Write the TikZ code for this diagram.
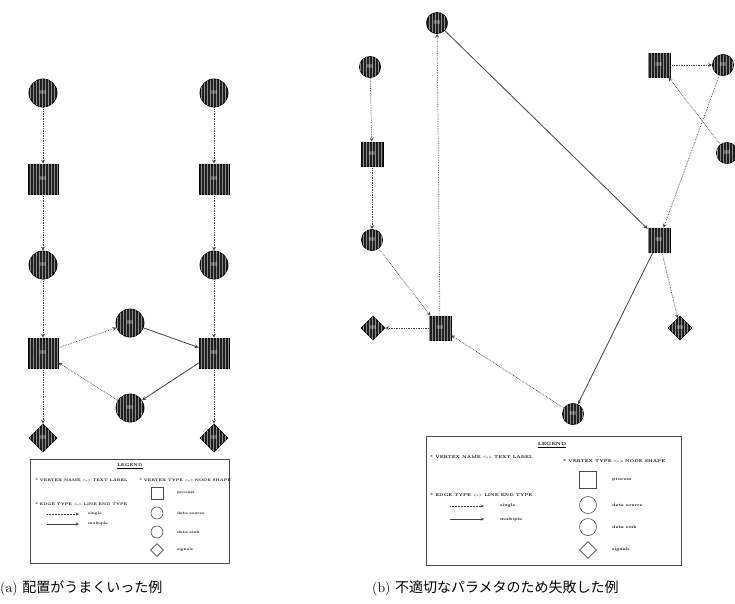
\documentclass[tikz,border=0pt]{standalone}
\usepackage{fontspec}
\newfontfamily\jpfont{Noto Sans CJK JP}
\usepackage{tikz}
\usetikzlibrary{arrows, positioning, shapes.geometric, patterns}

\begin{document}
\begin{tikzpicture}[x=1pt, y=-1pt, >=stealth, node distance=86pt,
	every node/.style={inner sep=0pt},
	vtx/.style={draw=black, line width=0.8pt, fill=black!88, postaction={pattern=vertical lines, pattern color=black!45},
		text=white, font=\fontsize{8}{8}\selectfont\bfseries},
	proc/.style={vtx, rectangle, minimum width=30pt, minimum height=30pt},
	src/.style={vtx, circle, minimum size=28pt},
	sig/.style={vtx, diamond, minimum size=28pt},
	procb/.style={vtx, rectangle, minimum width=22pt, minimum height=24pt},
	srcb/.style={vtx, circle, minimum size=21pt},
	sigb/.style={vtx, diamond, minimum size=24pt},
	single/.style={->, densely dotted, black!75, line width=0.7pt},
	multi/.style={->, black!75, line width=0.8pt},
	legbox/.style={draw=black!70, line width=0.8pt},
	legtxt/.style={anchor=west, font=\fontsize{3.6}{4}\selectfont\bfseries},
	legtxtb/.style={anchor=west, font=\fontsize{4}{5}\selectfont\bfseries},
	legshape/.style={draw=black!70, fill=white, line width=0.6pt}]

	\useasboundingbox (0,0) rectangle (735,603);
	\fill[white] (0,0) rectangle (735,603);

	% (a) left column
	\node [src] (L1) at (43,93) {=};
	\node [proc] (L2) [below of = L1] {=};
	\node [src] (L3) [below of = L2] {=};
	\node [proc] (L4) [below of = L3, node distance=88pt] {=};
	\node [sig] (L5) [below of = L4, node distance=85pt] {=};

	% (a) right column
	\node [src] (R1) at (214,93) {=};
	\node [proc] (R2) [below of = R1] {=};
	\node [src] (R3) [below of = R2] {=};
	\node [proc] (R4) [below of = R3, node distance=88pt] {=};
	\node [sig] (R5) [below of = R4, node distance=85pt] {=};

	% (a) middle
	\node [src] (M1) at (130,323) {=};
	\node [src] (M2) at (130,408) {=};

	\draw [single] (L1) -- (L2);
	\draw [single] (L2) -- (L3);
	\draw [single] (L3) -- (L4);
	\draw [single] (L4) -- (L5);
	\draw [single] (R1) -- (R2);
	\draw [single] (R2) -- (R3);
	\draw [single] (R3) -- (R4);
	\draw [single] (R4) -- (R5);
	\draw [single] (L4) -- (M1);
	\draw [multi] (M1) -- (R4);
	\draw [multi] (R4) -- (M2);
	\draw [single] (M2) -- (L4);

	% (a) legend
	\node [legbox, minimum width=199pt, minimum height=104pt] (lega) at (129.5,511) {};
	\node [font=\fontsize{4}{5}\selectfont\bfseries] (lega-t) at (130,466) {\underline{LEGEND}};
	\node [legtxt] (lega-n) at (35,480) {* VERTEX NAME <-> TEXT LABEL};
	\node [legtxt] (lega-v) at (139,480) {* VERTEX TYPE <-> NODE SHAPE};
	\node [legtxt] (lega-e) at (35,504) {* EDGE TYPE <-> LINE END TYPE};
	\coordinate (as1) at (47,514);
	\coordinate (as2) at (79,514);
	\coordinate (am1) at (47,524);
	\coordinate (am2) at (79,524);
	\draw [single, line width=0.5pt] (as1) -- (as2);
	\draw [multi, line width=0.5pt] (am1) -- (am2);
	\node [legtxt] (lega-s) at (88,514) {single};
	\node [legtxt] (lega-m) at (88,524) {multiple};
	\node [legshape, rectangle, minimum size=12pt] (lega-p) at (157,493) {};
	\node [legshape, circle, minimum size=12pt] (lega-c1) at (157,513) {};
	\node [legshape, circle, minimum size=12pt] (lega-c2) at (157,532) {};
	\node [legshape, diamond, minimum size=13pt] (lega-d) at (157,550) {};
	\node [legtxt] (lega-pt) at (177,493) {process};
	\node [legtxt] (lega-c1t) at (177,513) {data source};
	\node [legtxt] (lega-c2t) at (177,532) {data sink};
	\node [legtxt] (lega-dt) at (177,550) {signals};

	% (b) nodes
	\node [srcb] (T) at (437,23) {=};
	\node [srcb] (A) at (370,67) {=};
	\node [procb] (B) at (372,154) {=};
	\node [srcb] (C) at (372,240) {=};
	\node [sigb] (D) at (373,328) {=};
	\node [procb] (E) at (440,328) {=};
	\node [srcb] (F) at (573,414) {=};
	\node [procb] (G) at (659,240) {=};
	\node [sigb] (H) at (680,328) {=};
	\node [procb] (I) at (659,65) {=};
	\node [srcb] (J) at (723,65) {=};
	\node [srcb] (K) at (727,153) {=};

	\draw [single] (A) -- (B);
	\draw [single] (B) -- (C);
	\draw [single] (C) -- (E);
	\draw [single] (E) -- (T);
	\draw [single] (E) -- (D);
	\draw [single] (F) -- (E);
	\draw [multi] (T) -- (G);
	\draw [multi] (G) -- (F);
	\draw [single] (G) -- (H);
	\draw [single] (I) -- (J);
	\draw [single] (J) -- (G);
	\draw [single] (K) -- (I);

	% (b) legend
	\node [legbox, minimum width=255pt, minimum height=129pt] (legb) at (553.5,500.5) {};
	\node [font=\fontsize{4.5}{5}\selectfont\bfseries] (legb-t) at (552,445) {\underline{LEGEND}};
	\node [legtxtb] (legb-n) at (430,457) {* VERTEX NAME <-> TEXT LABEL};
	\node [legtxtb] (legb-v) at (563,461) {* VERTEX TYPE <-> NODE SHAPE};
	\node [legtxtb] (legb-e) at (430,495) {* EDGE TYPE <-> LINE END TYPE};
	\coordinate (bs1) at (450,506);
	\coordinate (bs2) at (484,506);
	\coordinate (bm1) at (450,519);
	\coordinate (bm2) at (484,519);
	\draw [single, line width=0.5pt] (bs1) -- (bs2);
	\draw [multi, line width=0.5pt] (bm1) -- (bm2);
	\node [legtxtb] (legb-s) at (500,506) {single};
	\node [legtxtb] (legb-m) at (500,519) {multiple};
	\node [legshape, rectangle, minimum size=17pt] (legb-p) at (588,480) {};
	\node [legshape, circle, minimum size=17pt] (legb-c1) at (588,505) {};
	\node [legshape, circle, minimum size=17pt] (legb-c2) at (588,527) {};
	\node [legshape, diamond, minimum size=17pt] (legb-d) at (588,550) {};
	\node [legtxtb] (legb-pt) at (612,480) {process};
	\node [legtxtb] (legb-c1t) at (612,505) {data source};
	\node [legtxtb] (legb-c2t) at (612,527) {data sink};
	\node [legtxtb] (legb-dt) at (612,550) {signals};

	% captions
	\node [anchor=west, font=\fontsize{14}{14}\selectfont] (capa) at (0,588) {(a) {\jpfont 配置がうまくいった例}};
	\node [anchor=west, font=\fontsize{14}{14}\selectfont] (capb) at (372,588) {(b) {\jpfont 不適切なパラメタのため失敗した例}};

\end{tikzpicture}
\end{document}
